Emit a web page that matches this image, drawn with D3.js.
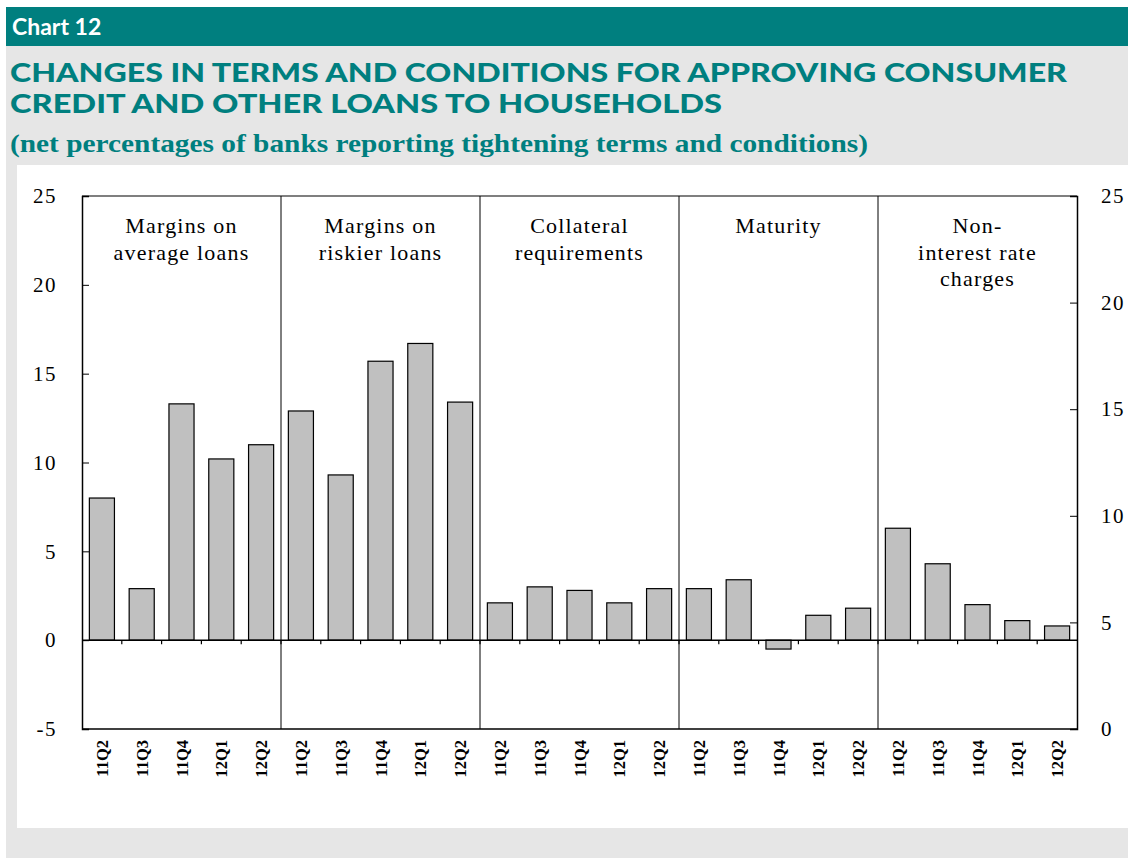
<!DOCTYPE html>
<meta charset="utf-8">
<html>
<head>
    <title>Chart 12</title>
    <script type="text/javascript" src="https://cdn.jsdelivr.net/npm/d3@7"></script>
    <style>
        body { margin: 0; background: #ffffff; }
        svg { display: block; }
    </style>
</head>
<body>
    <div id="chart"></div>

    <script>
        // data
        var panels = ["Margins on|average loans", "Margins on|riskier loans", "Collateral|requirements", "Maturity", "Non-|interest rate|charges"];
        var quarters = ["11Q2", "11Q3", "11Q4", "12Q1", "12Q2"];
        var averageMargins = [8.0, 2.9, 13.3, 10.2, 11.0];
        var riskierMargins = [12.9, 9.3, 15.7, 16.7, 13.4];
        var collateral = [2.1, 3.0, 2.8, 2.1, 2.9];
        var maturity = [2.9, 3.4, -0.5, 1.4, 1.8];
        var nonInterest = [6.3, 4.3, 2.0, 1.1, 0.8];
        var leftTicks = [-5, 0, 5, 10, 15, 20, 25];
        var rightTicks = [0, 5, 10, 15, 20, 25];

        var series = [averageMargins, riskierMargins, collateral, maturity, nonInterest];

        // flatten into one row per bar
        var rows = [];
        series.forEach(function (s, p) {
            s.forEach(function (v, q) {
                rows.push({ key: p + "-" + q, panel: p, label: quarters[q], value: v });
            });
        });

        var width = 1128, height = 858;
        var teal = "#007f7f";

        var svg = d3.select("#chart").append("svg")
            .attr("width", width)
            .attr("height", height);

        // backgrounds
        svg.append("rect").attr("x", 6).attr("y", 46).attr("width", width - 6).attr("height", height - 46).attr("fill", "#e6e6e6");
        svg.append("rect").attr("x", 6).attr("y", 7).attr("width", width - 6).attr("height", 39).attr("fill", teal);
        svg.append("rect").attr("x", 17).attr("y", 165).attr("width", width - 17).attr("height", 663).attr("fill", "#ffffff");

        // header texts
        svg.append("text").attr("x", 12).attr("y", 35)
            .attr("fill", "#ffffff").attr("font-family", "Lato, sans-serif").attr("font-weight", 700)
            .attr("font-size", 23).text("Chart 12");

        svg.append("text").attr("x", 10).attr("y", 82)
            .attr("fill", teal).attr("font-family", "Lato, sans-serif").attr("font-weight", 900)
            .attr("font-size", 26).attr("textLength", 1057).attr("lengthAdjust", "spacingAndGlyphs")
            .text("CHANGES IN TERMS AND CONDITIONS FOR APPROVING CONSUMER");
        svg.append("text").attr("x", 10).attr("y", 113)
            .attr("fill", teal).attr("font-family", "Lato, sans-serif").attr("font-weight", 900)
            .attr("font-size", 26).attr("textLength", 712).attr("lengthAdjust", "spacingAndGlyphs")
            .text("CREDIT AND OTHER LOANS TO HOUSEHOLDS");
        svg.append("text").attr("x", 10).attr("y", 152)
            .attr("fill", teal).attr("font-family", "Liberation Serif, serif").attr("font-weight", 700)
            .attr("font-size", 25).attr("textLength", 858).attr("lengthAdjust", "spacingAndGlyphs")
            .text("(net percentages of banks reporting tightening terms and conditions)");

        // plot area
        var plotLeft = 82, plotRight = 1077, plotTop = 196, plotBottom = 729;

        var x = d3.scaleBand()
            .domain(rows.map(d => d.key))
            .range([plotLeft, plotRight])
            .paddingInner(0.37)
            .paddingOuter(0.185);

        var xEdge = d3.scaleLinear().domain([0, rows.length]).range([plotLeft, plotRight]);

        var y = d3.scaleLinear().domain([-5, 25]).range([plotBottom, plotTop]);
        var yRight = d3.scaleLinear().domain([0, 25]).range([plotBottom, plotTop]);

        var font = "'Liberation Serif', 'Times New Roman', serif";
        var plainNum = d => String(d);   // keep the ascii hyphen for -5

        // bars
        svg.append("g").selectAll("rect")
            .data(rows)
            .enter()
            .append("rect")
            .attr("x", d => x(d.key))
            .attr("width", x.bandwidth())
            .attr("y", d => y(Math.max(0, d.value)))
            .attr("height", d => Math.abs(y(d.value) - y(0)))
            .attr("fill", "#c0c0c0")
            .attr("stroke", "#000")
            .attr("stroke-width", 1.2);

        // zero line with category ticks
        svg.append("line")
            .attr("x1", plotLeft).attr("x2", plotRight)
            .attr("y1", y(0)).attr("y2", y(0))
            .attr("stroke", "#000").attr("stroke-width", 1.5);

        svg.append("g").selectAll("line")
            .data(d3.range(1, rows.length))
            .enter()
            .append("line")
            .attr("x1", d => xEdge(d)).attr("x2", d => xEdge(d))
            .attr("y1", y(0)).attr("y2", y(0) + 4)
            .attr("stroke", "#000").attr("stroke-width", 1.2);

        // panel dividers
        svg.append("g").selectAll("line")
            .data(d3.range(1, panels.length))
            .enter()
            .append("line")
            .attr("x1", d => xEdge(d * 5)).attr("x2", d => xEdge(d * 5))
            .attr("y1", plotTop).attr("y2", plotBottom)
            .attr("stroke", "#000").attr("stroke-width", 1);

        // frame
        svg.append("line").attr("x1", plotLeft).attr("x2", plotRight).attr("y1", plotTop).attr("y2", plotTop)
            .attr("stroke", "#000").attr("stroke-width", 1.2);
        svg.append("line").attr("x1", plotLeft).attr("x2", plotRight).attr("y1", plotBottom).attr("y2", plotBottom)
            .attr("stroke", "#000").attr("stroke-width", 1.5);

        // left axis
        var leftAxis = svg.append("g")
            .attr("transform", "translate(" + plotLeft + ",0)")
            .call(d3.axisRight(y).tickValues(leftTicks).tickSize(7).tickFormat(plainNum));
        leftAxis.select(".domain").attr("stroke-width", 1.5);
        leftAxis.selectAll("text")
            .attr("x", -25).attr("text-anchor", "end")
            .attr("font-family", font).attr("font-size", 21).attr("letter-spacing", 1.5).attr("fill", "#000");

        // right axis
        var rightAxis = svg.append("g")
            .attr("transform", "translate(" + plotRight + ",0)")
            .call(d3.axisLeft(yRight).tickValues(rightTicks).tickSize(7).tickFormat(plainNum));
        rightAxis.select(".domain").attr("stroke-width", 1.5);
        rightAxis.selectAll("text")
            .attr("x", 24).attr("text-anchor", "start")
            .attr("font-family", font).attr("font-size", 21).attr("letter-spacing", 1.5).attr("fill", "#000");

        // category labels, rotated
        svg.append("g").selectAll("text")
            .data(rows)
            .enter()
            .append("text")
            .attr("transform", d => "translate(" + (x(d.key) + x.bandwidth() / 2 + 6) + "," + (plotBottom + 11) + ") rotate(-90)")
            .attr("text-anchor", "end")
            .attr("font-family", font).attr("font-weight", 700).attr("font-size", 16.5)
            .text(d => d.label);

        // panel titles
        svg.append("g").selectAll("text")
            .data(panels)
            .enter()
            .append("text")
            .attr("x", (d, i) => (xEdge(i * 5) + xEdge(i * 5 + 5)) / 2)
            .attr("y", 233)
            .attr("text-anchor", "middle")
            .attr("font-family", font).attr("font-size", 22).attr("letter-spacing", 1.2)
            .each(function (d) {
                var self = d3.select(this);
                d.split("|").forEach(function (line, k) {
                    self.append("tspan")
                        .attr("x", self.attr("x"))
                        .attr("dy", k === 0 ? 0 : 26.5)
                        .text(line);
                });
            });
    </script>
</body>
</html>
